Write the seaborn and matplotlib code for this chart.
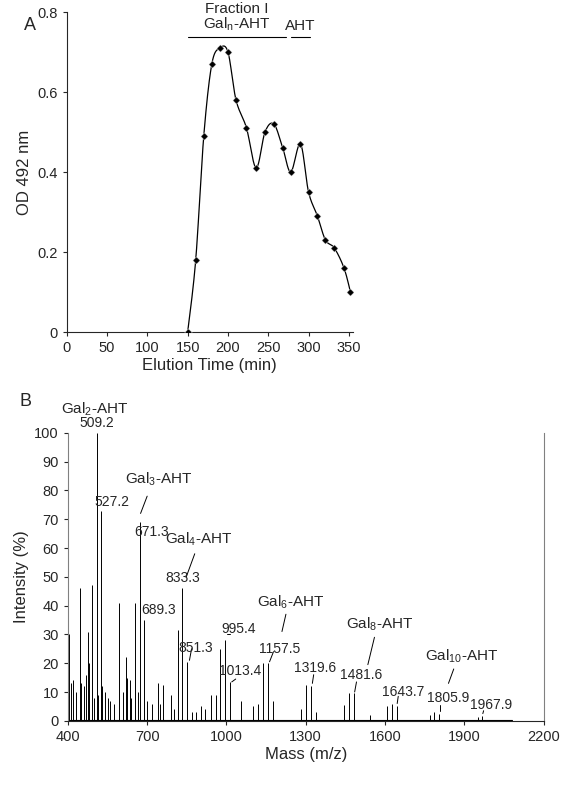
import numpy as np
import seaborn as sns
import matplotlib
matplotlib.use("Agg")
import matplotlib.pyplot as plt

sns.set_style("ticks")
plt.rcParams['font.family'] = ['Liberation Sans', 'DejaVu Sans']
plt.rcParams['mathtext.default'] = 'regular'

# --- Panel A: elution profile ---
elution_time = [150, 160, 170, 180, 190, 200, 210, 223, 235, 246, 257, 268, 278, 290, 300, 311, 321, 332, 344, 352]
od492 = [0.0, 0.18, 0.49, 0.67, 0.71, 0.70, 0.58, 0.51, 0.41, 0.50, 0.52, 0.46, 0.40, 0.47, 0.35, 0.29, 0.23, 0.21, 0.16, 0.10]

# --- Panel B: mass spectrum peaks ---
peak_mass = [403, 410, 420, 430, 445, 450, 460, 470, 475, 480, 490, 500, 509.2, 515, 527.2, 530, 540, 550,
             560, 575, 595, 610, 620, 625, 635, 640, 655, 665, 671.3, 689.3, 700, 720, 740, 750, 760, 790,
             800, 815, 833.3, 851.3, 870, 885, 905, 920, 940, 960, 977, 995.4, 1013.4, 1055, 1100, 1120,
             1139, 1157.5, 1175, 1283, 1301, 1319.6, 1337, 1445, 1463, 1481.6, 1545, 1607, 1625, 1643.7,
             1770, 1787, 1805.9, 1950, 1967.9]
peak_int = [30, 13, 14, 10, 46, 13, 12, 16, 31, 20, 47, 8, 100, 9, 73, 12, 10, 8,
            7, 6, 41, 10, 22, 15, 14, 8, 41, 10, 69, 35, 7, 6, 13, 6, 12.5, 9,
            4, 31.5, 46, 20.5, 3, 3, 5, 4, 9, 9, 25, 28, 13.5, 7, 5, 6,
            20, 20, 7, 4, 12.5, 12, 3, 5.5, 9.5, 9.5, 2, 5, 6, 5,
            2, 3, 2.5, 1.2, 1.5]


def smooth(x, y, n=20):
    # Catmull-Rom curve through the points
    x = np.asarray(x, float); y = np.asarray(y, float)
    px = np.r_[x[0], x, x[-1]]; py = np.r_[y[0], y, y[-1]]
    t = np.linspace(0, 1, n)[:, None]
    xs, ys = [], []
    for i in range(1, len(px) - 2):
        for p, out in ((px, xs), (py, ys)):
            p0, p1, p2, p3 = p[i - 1], p[i], p[i + 1], p[i + 2]
            out.append((0.5 * (2 * p1 + (-p0 + p2) * t + (2 * p0 - 5 * p1 + 4 * p2 - p3) * t ** 2
                               + (-p0 + 3 * p1 - 3 * p2 + p3) * t ** 3)).ravel())
    return np.concatenate(xs), np.concatenate(ys)


fig = plt.figure(figsize=(5.61, 8), dpi=100)

axA = fig.add_axes([0.119, 0.585, 0.51, 0.4])
sx, sy = smooth(elution_time, od492)
axA.plot(sx, sy, color='black', lw=0.9)
sns.scatterplot(x=elution_time, y=od492, marker='D', s=14, color='black', ax=axA, zorder=3)
axA.set_xlim(0, 355)
axA.set_ylim(0, 0.8)
axA.set_xticks(range(0, 351, 50))
axA.set_yticks([0, 0.2, 0.4, 0.6, 0.8])
axA.set_yticklabels(['0', '0.2', '0.4', '0.6', '0.8'])
axA.set_xlabel('Elution Time (min)', fontsize=12, labelpad=2)
axA.set_ylabel('OD 492 nm', fontsize=12)
axA.tick_params(labelsize=10.5, direction='out', length=3)
sns.despine(ax=axA)
axA.plot([150, 272], [0.737, 0.737], color='black', lw=0.8, clip_on=False)
axA.plot([278, 302], [0.737, 0.737], color='black', lw=0.8, clip_on=False)
axA.text(211, 0.748, 'Gal$_n$-AHT', ha='center', va='bottom', fontsize=11)
axA.text(211, 0.79, 'Fraction I', ha='center', va='bottom', fontsize=11)
axA.text(290, 0.748, 'AHT', ha='center', va='bottom', fontsize=11)
fig.text(0.043, 0.963, 'A', fontsize=13)

axB = fig.add_axes([0.121, 0.099, 0.848, 0.36])
axB.vlines(peak_mass, 0, peak_int, color='black', lw=0.7)
axB.axhline(0.3, xmin=0, xmax=(2080 - 400) / 1800, color='black', lw=0.8)
axB.set_xlim(400, 2200)
axB.set_ylim(0, 100)
axB.set_xticks(range(400, 2201, 300))
axB.set_yticks(range(0, 101, 10))
axB.set_xlabel('Mass (m/z)', fontsize=12, labelpad=2)
axB.set_ylabel('Intensity (%)', fontsize=12)
axB.tick_params(labelsize=10.5, direction='out', length=3)
axB.spines['top'].set_visible(False)
axB.spines['right'].set_color('grey')
axB.spines['left'].set_color('grey')
fig.text(0.035, 0.493, 'B', fontsize=13)

num = dict(fontsize=10, ha='center', va='bottom')
for m, xt, yt in [(509.2, 509, 101), (527.2, 565, 73.5), (689.3, 745, 36), (995.4, 1045, 29.5),
                  (1013.4, 1050, 15), (851.3, 885, 23), (1157.5, 1200, 22.5), (1319.6, 1335, 16),
                  (1481.6, 1510, 13.5), (1643.7, 1670, 7.5), (1805.9, 1840, 5.5), (1967.9, 2000, 3)]:
    axB.text(xt, yt, f'{m:.1f}', **num)
axB.text(650, 68, '671.3', fontsize=10, ha='left', va='top')
axB.text(833.3, 47, '833.3', **num)

line = dict(color='black', lw=0.7)
axB.plot([675, 700], [72, 78], **line)
axB.plot([848, 880], [50, 58], **line)
axB.plot([860, 868], [21, 25], **line)
axB.plot([1003, 1015], [30, 30], **line)
axB.plot([1020, 1035], [13.5, 14.5], **line)
axB.plot([1163, 1178], [20.5, 24], **line)
axB.plot([1210, 1225], [31, 37], **line)
axB.plot([1325, 1330], [13, 16], **line)
axB.plot([1485, 1492], [10, 13.5], **line)
axB.plot([1535, 1560], [19.5, 29], **line)
axB.plot([1646, 1650], [6, 8.5], **line)
axB.plot([1807, 1807], [3.5, 5.5], **line)
axB.plot([1840, 1860], [13, 18], **line)
axB.plot([1970, 1973], [2.5, 3.5], **line)
axB.text(500, 105, 'Gal$_2$-AHT', fontsize=11, ha='center', va='bottom', clip_on=False)
axB.text(745, 81, 'Gal$_3$-AHT', fontsize=11, ha='center', va='bottom')
axB.text(895, 60, 'Gal$_4$-AHT', fontsize=11, ha='center', va='bottom')
axB.text(1245, 38, 'Gal$_6$-AHT', fontsize=11, ha='center', va='bottom')
axB.text(1580, 30.5, 'Gal$_8$-AHT', fontsize=11, ha='center', va='bottom')
axB.text(1890, 19.5, 'Gal$_{10}$-AHT', fontsize=11, ha='center', va='bottom')

fig.savefig('out.png', dpi=100)
